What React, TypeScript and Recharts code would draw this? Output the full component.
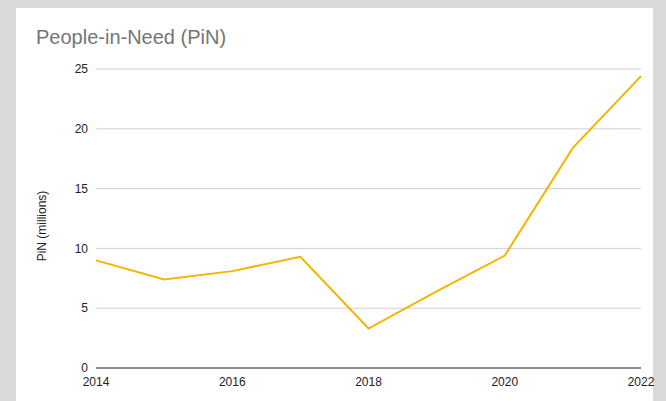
import { LineChart, Line, XAxis, YAxis, CartesianGrid } from "recharts";

const years = [2014, 2015, 2016, 2017, 2018, 2019, 2020, 2021, 2022];
const pinMillions = [9.0, 7.4, 8.1, 9.3, 3.3, 6.4, 9.4, 18.4, 24.4];
const xTicks = [2014, 2016, 2018, 2020, 2022];
const yTicks = [0, 5, 10, 15, 20, 25];

const chartData = years.map((year, i) => ({ year, pin: pinMillions[i] }));

const font = "Arial, 'Liberation Sans', sans-serif";

export default function App() {
  return (
    <div
      style={{
        position: "absolute",
        top: 0,
        left: 0,
        width: 666,
        height: 401,
        background: "#d9d9d9",
        overflow: "hidden",
        fontFamily: font,
      }}
    >
      <div
        style={{
          position: "absolute",
          left: 16,
          top: 8,
          width: 637,
          height: 400,
          background: "#ffffff",
        }}
      />
      <div
        style={{
          position: "absolute",
          left: 36,
          top: 26,
          fontSize: 20,
          color: "#757575",
          whiteSpace: "nowrap",
        }}
      >
        People-in-Need (PiN)
      </div>
      {/* y axis title, centred at (42, 226) */}
      <div
        style={{
          position: "absolute",
          left: 42 - 60,
          top: 226 - 8,
          width: 120,
          height: 16,
          lineHeight: "16px",
          textAlign: "center",
          fontSize: 12,
          color: "#222222",
          transform: "rotate(-90deg)",
          whiteSpace: "nowrap",
          zIndex: 1,
        }}
      >
        PiN (millions)
      </div>
      <div style={{ position: "absolute", left: 0, top: 0 }}>
        <LineChart
          width={666}
          height={401}
          data={chartData}
          margin={{ top: 69, right: 25, bottom: 3, left: 0 }}
          style={{ fontFamily: font }}
        >
          <CartesianGrid vertical={false} stroke="#d0d0d0" />
          <XAxis
            dataKey="year"
            type="number"
            domain={[2014, 2022]}
            ticks={xTicks}
            tickLine={false}
            axisLine={{ stroke: "#333333" }}
            tick={{ fill: "#222222", fontSize: 12, dy: 1 }}
            height={30}
          />
          <YAxis
            domain={[0, 25]}
            ticks={yTicks}
            tickLine={false}
            axisLine={false}
            width={96}
            tick={{ fill: "#222222", fontSize: 12 }}
          />
          <Line
            type="linear"
            dataKey="pin"
            stroke="#f4b400"
            strokeWidth={2}
            dot={false}
            isAnimationActive={false}
          />
        </LineChart>
      </div>
    </div>
  );
}
